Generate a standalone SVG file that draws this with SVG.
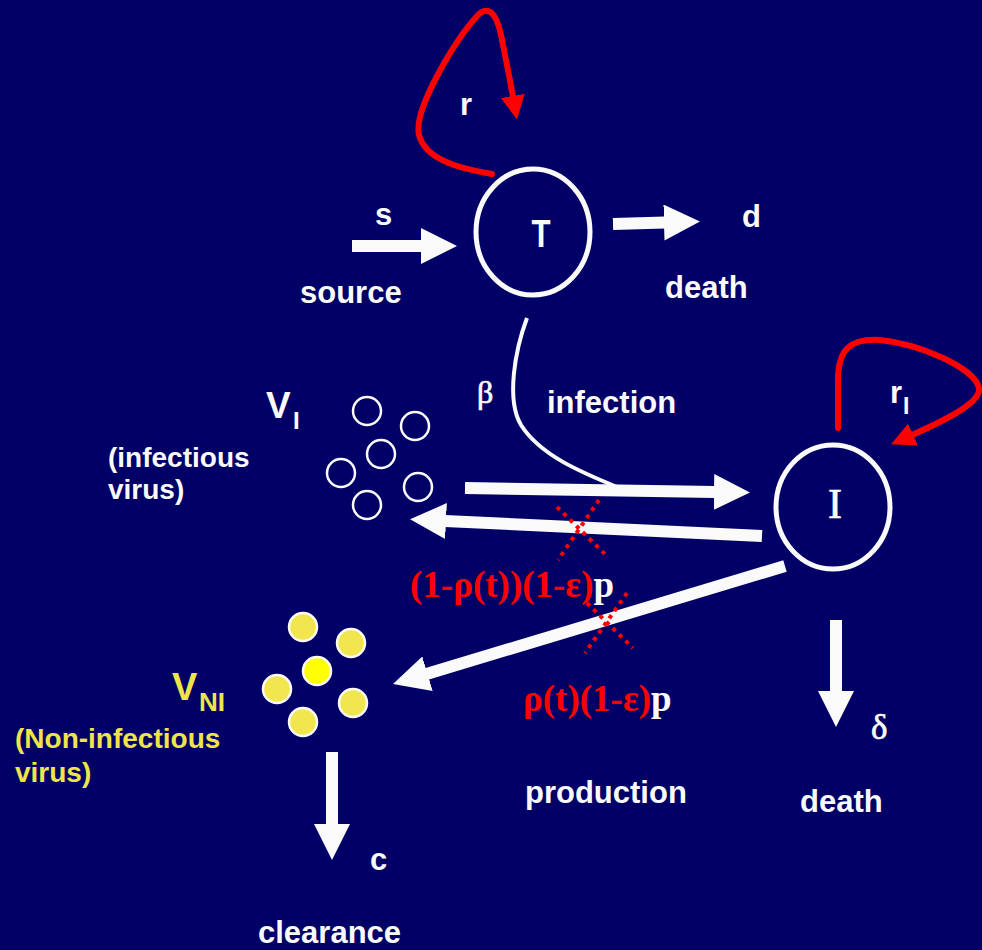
<svg xmlns="http://www.w3.org/2000/svg" width="982" height="950" viewBox="0 0 982 950">
  <defs>
    <marker id="wh" markerUnits="userSpaceOnUse" markerWidth="36" markerHeight="36" viewBox="0 0 35 35" refX="1" refY="17.5" orient="auto">
      <path d="M0,0 L35,17.5 L0,35 z" fill="#fafafa"/>
    </marker>
    <marker id="rd" markerUnits="userSpaceOnUse" markerWidth="24" markerHeight="24" viewBox="0 0 22 22" refX="1" refY="11" orient="auto">
      <path d="M0,0 L22,11 L0,22 z" fill="#ff0000"/>
    </marker>
    <style>
      .sans { font-family: "Liberation Sans", Arial, sans-serif; font-weight: bold; }
      .serif { font-family: "Liberation Serif", "Times New Roman", serif; }
      .sym { stroke: #fafafa; stroke-width: 0.7; }
      .w { fill: #fafafa; }
      .y { fill: #efe44a; }
      .red { fill: #ff0000; }
      .arr { stroke: #fafafa; stroke-width: 12; fill: none; marker-end: url(#wh); }
      .loop { stroke: #ff0000; stroke-width: 6; fill: none; stroke-linecap: round; marker-end: url(#rd); }
      .dots { stroke: #ff0000; stroke-width: 4; stroke-dasharray: 4 5; fill: none; }
      .cell { fill: none; stroke: #fafafa; stroke-width: 5; }
      .vi { fill: none; stroke: #fafafa; stroke-width: 2.5; }
      .vni { fill: #f2e64e; stroke: #fafafa; stroke-width: 2.5; }
    </style>
  </defs>
  <rect x="0" y="0" width="982" height="950" fill="#000066"/>

  <g id="connectors">
    <!-- source -->
    <line class="arr" x1="352" y1="246" x2="422" y2="246"/>
    <!-- T death -->
    <line class="arr" x1="613" y1="224" x2="665" y2="222.5"/>
    <!-- infection curve -->
    <path d="M527,318 C 515,350 506,400 521,425 C 540,455 580,472 622,489" fill="none" stroke="#fafafa" stroke-width="4"/>
    <!-- VI to I -->
    <line class="arr" x1="465" y1="488" x2="715" y2="492"/>
    <!-- I to VI -->
    <line class="arr" x1="762" y1="536" x2="445" y2="521"/>
    <!-- I to VNI -->
    <line class="arr" x1="785" y1="566" x2="426.5" y2="674"/>
    <!-- I death -->
    <line class="arr" x1="836" y1="620" x2="836" y2="692"/>
    <!-- clearance -->
    <line class="arr" x1="332" y1="752" x2="332" y2="825"/>
    <!-- red loops -->
    <path class="loop" d="M492,174 C 455,168 425,158 419,135 C 413,110 455,40 478,15 C 490,4 498,15 503,45 C 507,65 510,80 513,97"/>
    <path class="loop" d="M838,428 L838,380 C 838,350 850,338 880,340 C 920,344 975,368 979,388 C 981,402 950,418 912,435"/>
    <!-- dotted crosses -->
    <line class="dots" x1="557" y1="507" x2="606" y2="555"/>
    <line class="dots" x1="599" y1="500" x2="558" y2="560"/>
    <line class="dots" x1="587" y1="603" x2="633" y2="648"/>
    <line class="dots" x1="627" y1="593" x2="585" y2="653"/>
  </g>

  <g id="node-T">
    <ellipse class="cell" cx="533" cy="232" rx="57" ry="63"/>
    <text class="sans w" transform="translate(541,247) scale(0.8,1)" text-anchor="middle" font-size="39">T</text>
  </g>

  <g id="node-I">
    <ellipse class="cell" cx="833" cy="507" rx="57" ry="62"/>
    <text class="serif w sym" x="835" y="518" text-anchor="middle" font-size="42">I</text>
  </g>

  <g id="node-VI">
    <circle class="vi" cx="367" cy="411" r="14"/>
    <circle class="vi" cx="415" cy="426" r="14"/>
    <circle class="vi" cx="381" cy="454" r="14"/>
    <circle class="vi" cx="341" cy="473" r="14"/>
    <circle class="vi" cx="418" cy="487" r="14"/>
    <circle class="vi" cx="367" cy="505" r="14"/>
    <text class="sans w" x="266" y="418" font-size="37">V</text>
    <text class="sans w" x="293" y="429" font-size="24">I</text>
    <text class="sans w" x="108" y="467" font-size="28">(infectious</text>
    <text class="sans w" x="108" y="499" font-size="28">virus)</text>
  </g>

  <g id="node-VNI">
    <circle class="vni" cx="303" cy="627" r="14"/>
    <circle class="vni" cx="351" cy="643" r="14"/>
    <circle class="vni" cx="317" cy="671" r="14" style="fill:#ffff00"/>
    <circle class="vni" cx="277" cy="689" r="14"/>
    <circle class="vni" cx="353" cy="703" r="14"/>
    <circle class="vni" cx="303" cy="722" r="14"/>
    <text class="sans y" x="172" y="700" font-size="38">V</text>
    <text class="sans y" x="199" y="711" font-size="26">NI</text>
    <text class="sans y" x="15" y="748" font-size="28">(Non-infectious</text>
    <text class="sans y" x="15" y="782" font-size="28">virus)</text>
  </g>

  <g id="labels">
    <text class="sans w" x="460" y="115" font-size="31">r</text>
    <text class="sans w" x="375" y="225" font-size="31">s</text>
    <text class="sans w" x="300" y="303" font-size="31">source</text>
    <text class="sans w" x="742" y="227" font-size="31">d</text>
    <text class="sans w" x="665" y="298" font-size="31">death</text>
    <text class="serif w sym" x="477" y="403" font-size="32">β</text>
    <text class="sans w" x="547" y="413" font-size="31">infection</text>
    <text class="sans w" x="890" y="403" font-size="31">r</text>
    <text class="sans w" x="903" y="414" font-size="23">I</text>
    <text class="serif red" x="410" y="597" font-size="37" font-weight="bold">(1-ρ(t))(1-ε)<tspan class="w">p</tspan></text>
    <text class="serif red" x="523" y="711" font-size="37" font-weight="bold">ρ(t)(1-ε)<tspan class="w">p</tspan></text>
    <text class="serif w sym" x="871" y="739" font-size="35">δ</text>
    <text class="sans w" x="525" y="803" font-size="31">production</text>
    <text class="sans w" x="800" y="812" font-size="31">death</text>
    <text class="sans w" x="370" y="870" font-size="31">c</text>
    <text class="sans w" x="258" y="943" font-size="31">clearance</text>
  </g>
</svg>
